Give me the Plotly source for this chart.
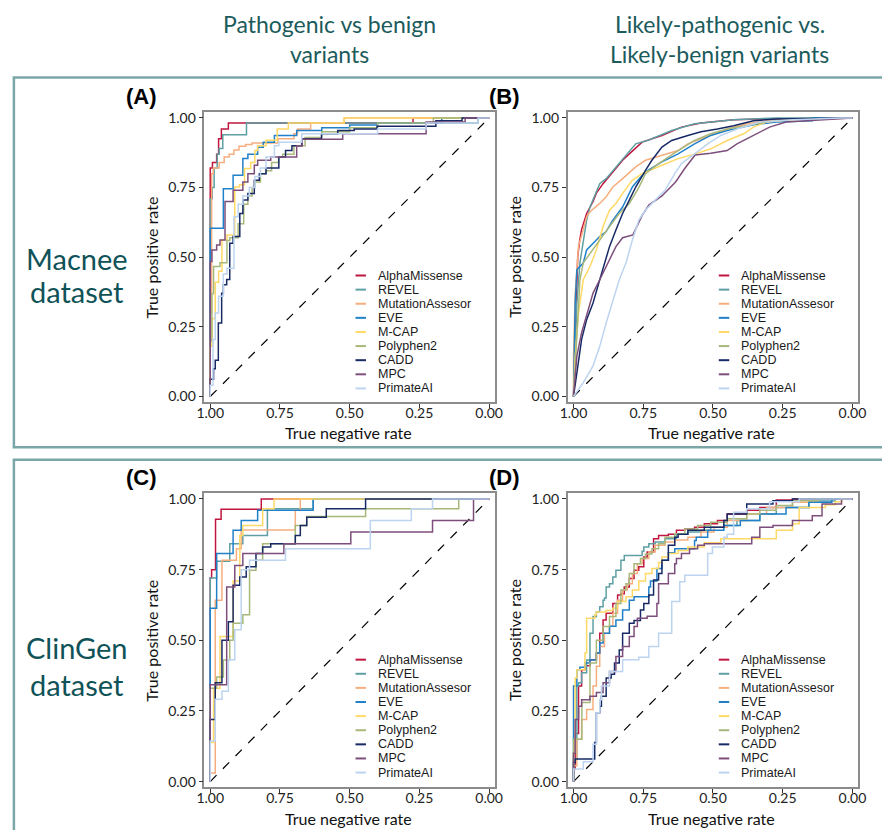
import plotly.graph_objects as go

# ---------------- data ----------------
METHODS = ["AlphaMissense", "REVEL", "MutationAssesor", "EVE", "M-CAP",
           "Polyphen2", "CADD", "MPC", "PrimateAI"]

X_TICK_VALUES = [1.0, 0.75, 0.5, 0.25, 0.0]
X_TICK_LABELS = ["1.00", "0.75", "0.50", "0.25", "0.00"]
Y_TICK_VALUES = [0.0, 0.25, 0.5, 0.75, 1.0]
Y_TICK_LABELS = ["0.00", "0.25", "0.50", "0.75", "1.00"]

# (specificity, sensitivity) vertices of each ROC curve
# Panel A: Macnee, pathogenic vs benign
A_ALPHAMISSENSE = [(1, 0), (0.992, 0.82), (0.977, 0.84), (0.97, 0.87), (0.96, 0.925), (0.935, 0.96), (0.273, 0.982), (0, 1)]
A_REVEL = [(1, 0), (0.993, 0.71), (0.986, 0.75), (0.975, 0.82), (0.968, 0.87), (0.955, 0.89), (0.87, 0.94), (0.04, 0.982), (0, 1)]
A_MUTATIONASSESOR = [(1, 0), (0.995, 0.3), (0.989, 0.8), (0.968, 0.82), (0.95, 0.84), (0.932, 0.86), (0.915, 0.87), (0.897, 0.885), (0.873, 0.898), (0.85, 0.905), (0.757, 0.91), (0.7, 0.925), (0.687, 0.943), (0.64, 0.96), (0.52, 0.982), (0, 1)]
A_EVE = [(1, 0), (0.953, 0.604), (0.918, 0.746), (0.883, 0.794), (0.865, 0.854), (0.83, 0.87), (0.81, 0.895), (0.77, 0.913), (0.69, 0.937), (0.6, 0.955), (0.5, 0.965), (0.4, 0.975), (0.17, 0.982), (0, 1)]
A_MCAP = [(1, 0), (0.994, 0.18), (0.982, 0.28), (0.97, 0.41), (0.958, 0.45), (0.94, 0.562), (0.912, 0.58), (0.895, 0.752), (0.877, 0.76), (0.855, 0.818), (0.84, 0.84), (0.83, 0.883), (0.8, 0.9), (0.76, 0.92), (0.72, 0.96), (0.52, 0.982), (0, 1)]
A_POLYPHEN2 = [(1, 0), (0.994, 0.2), (0.988, 0.37), (0.965, 0.467), (0.94, 0.48), (0.93, 0.56), (0.9, 0.57), (0.88, 0.62), (0.865, 0.69), (0.85, 0.72), (0.84, 0.75), (0.82, 0.77), (0.8, 0.8), (0.78, 0.81), (0.755, 0.84), (0.74, 0.86), (0.7, 0.87), (0.66, 0.9), (0.6, 0.93), (0.5, 0.95), (0.4, 0.965), (0.2, 0.982), (0, 1)]
A_CADD = [(1, 0), (0.988, 0.062), (0.982, 0.1), (0.971, 0.13), (0.959, 0.264), (0.953, 0.371), (0.941, 0.401), (0.93, 0.42), (0.918, 0.55), (0.894, 0.574), (0.883, 0.657), (0.865, 0.705), (0.842, 0.729), (0.824, 0.776), (0.8, 0.8), (0.754, 0.82), (0.73, 0.86), (0.707, 0.883), (0.672, 0.9), (0.601, 0.925), (0.543, 0.943), (0.484, 0.955), (0.402, 0.96), (0.191, 0.97), (0.097, 0.99), (0, 1)]
A_MPC = [(1, 0), (0.994, 0.485), (0.977, 0.526), (0.965, 0.544), (0.947, 0.562), (0.918, 0.7), (0.883, 0.74), (0.865, 0.77), (0.842, 0.8), (0.83, 0.83), (0.783, 0.848), (0.69, 0.86), (0.67, 0.9), (0.525, 0.923), (0.226, 0.943), (0.086, 0.985), (0, 1)]
A_PRIMATEAI = [(1, 0), (0.99, 0.04), (0.982, 0.205), (0.97, 0.3), (0.953, 0.36), (0.94, 0.44), (0.915, 0.46), (0.9, 0.645), (0.883, 0.69), (0.86, 0.72), (0.84, 0.75), (0.82, 0.79), (0.8, 0.82), (0.77, 0.86), (0.754, 0.9), (0.672, 0.913), (0.4, 0.943), (0.226, 0.96), (0.04, 0.982), (0, 1)]

# Panel B: Macnee, likely-pathogenic vs likely-benign
B_ALPHAMISSENSE = [(1, 0), (0.996, 0.15), (0.99, 0.37), (0.985, 0.5), (0.978, 0.56), (0.971, 0.6), (0.953, 0.657), (0.93, 0.7), (0.918, 0.73), (0.894, 0.764), (0.859, 0.806), (0.824, 0.848), (0.8, 0.871), (0.754, 0.913), (0.683, 0.937), (0.613, 0.967), (0.543, 0.982), (0.426, 0.993), (0.332, 0.996), (0, 1)]
B_REVEL = [(1, 0), (0.994, 0.15), (0.988, 0.336), (0.977, 0.48), (0.965, 0.562), (0.953, 0.633), (0.941, 0.68), (0.918, 0.735), (0.906, 0.764), (0.883, 0.782), (0.848, 0.824), (0.812, 0.865), (0.777, 0.907), (0.73, 0.921), (0.648, 0.955), (0.566, 0.979), (0.426, 0.993), (0.273, 1.0), (0, 1)]
B_MUTATIONASSESOR = [(1, 0), (1, 0.145), (0.994, 0.37), (0.982, 0.54), (0.965, 0.6), (0.953, 0.645), (0.941, 0.663), (0.906, 0.693), (0.883, 0.717), (0.859, 0.752), (0.824, 0.782), (0.777, 0.824), (0.742, 0.848), (0.683, 0.865), (0.625, 0.883), (0.59, 0.907), (0.531, 0.93), (0.449, 0.96), (0.379, 0.979), (0.308, 0.99), (0.215, 0.995), (0, 1)]
B_EVE = [(1, 0), (0.996, 0.2), (0.994, 0.336), (0.988, 0.455), (0.965, 0.479), (0.953, 0.526), (0.93, 0.55), (0.906, 0.574), (0.883, 0.592), (0.859, 0.633), (0.824, 0.68), (0.789, 0.752), (0.766, 0.78), (0.742, 0.806), (0.683, 0.842), (0.625, 0.871), (0.566, 0.907), (0.508, 0.937), (0.449, 0.955), (0.355, 0.975), (0.273, 0.985), (0.144, 0.99), (0.144, 1.0), (0, 1)]
B_MCAP = [(1, 0), (0.994, 0.145), (0.982, 0.3), (0.965, 0.419), (0.941, 0.467), (0.918, 0.526), (0.894, 0.61), (0.871, 0.669), (0.848, 0.693), (0.824, 0.729), (0.789, 0.776), (0.754, 0.8), (0.683, 0.83), (0.625, 0.854), (0.566, 0.87), (0.508, 0.889), (0.449, 0.919), (0.39, 0.943), (0.355, 0.967), (0.308, 0.985), (0.215, 0.993), (0.039, 1.0), (0, 1)]
B_POLYPHEN2 = [(1, 0), (0.994, 0.1), (0.988, 0.205), (0.977, 0.419), (0.965, 0.48), (0.941, 0.514), (0.906, 0.562), (0.871, 0.61), (0.836, 0.657), (0.8, 0.693), (0.766, 0.75), (0.742, 0.8), (0.695, 0.836), (0.625, 0.883), (0.566, 0.919), (0.508, 0.943), (0.449, 0.96), (0.379, 0.972), (0.308, 0.985), (0.215, 0.995), (0, 1)]
B_CADD = [(1, 0), (0.988, 0.086), (0.971, 0.205), (0.953, 0.276), (0.93, 0.336), (0.906, 0.419), (0.889, 0.479), (0.871, 0.538), (0.848, 0.598), (0.824, 0.657), (0.8, 0.705), (0.777, 0.752), (0.742, 0.812), (0.719, 0.848), (0.683, 0.895), (0.648, 0.919), (0.59, 0.937), (0.543, 0.95), (0.484, 0.96), (0.426, 0.972), (0.355, 0.99), (0.273, 0.996), (0, 1)]
B_MPC = [(1, 0), (0.988, 0.145), (0.971, 0.229), (0.953, 0.288), (0.93, 0.371), (0.906, 0.419), (0.871, 0.49), (0.848, 0.538), (0.824, 0.57), (0.787, 0.58), (0.754, 0.65), (0.729, 0.688), (0.683, 0.72), (0.634, 0.77), (0.6, 0.82), (0.564, 0.867), (0.508, 0.873), (0.449, 0.883), (0.414, 0.907), (0.379, 0.925), (0.332, 0.949), (0.297, 0.967), (0.238, 0.985), (0.156, 0.99), (0.074, 0.995), (0, 1)]
B_PRIMATEAI = [(1, 0), (0.965, 0.05), (0.93, 0.11), (0.906, 0.18), (0.883, 0.264), (0.859, 0.348), (0.836, 0.419), (0.812, 0.479), (0.789, 0.562), (0.766, 0.633), (0.742, 0.669), (0.707, 0.705), (0.672, 0.74), (0.637, 0.8), (0.613, 0.836), (0.566, 0.871), (0.519, 0.907), (0.472, 0.937), (0.414, 0.96), (0.332, 0.985), (0.215, 0.993), (0.039, 1.0), (0, 1)]

# Panel C: ClinGen, pathogenic vs benign
C_ALPHAMISSENSE = [(1, 0), (0.995, 0.72), (0.981, 0.75), (0.961, 0.928), (0.817, 0.964), (0, 1)]
C_REVEL = [(1, 0), (0.977, 0.72), (0.93, 0.78), (0.883, 0.842), (0.795, 0.871), (0.631, 0.965), (0, 1)]
C_MUTATIONASSESOR = [(1, 0), (0.982, 0.03), (0.958, 0.642), (0.906, 0.783), (0.889, 0.824), (0.695, 0.89), (0.677, 0.96), (0, 1)]
C_EVE = [(1, 0), (0.977, 0.613), (0.918, 0.807), (0.889, 0.889), (0.83, 0.924), (0.631, 0.96), (0, 1)]
C_MCAP = [(1, 0), (0.988, 0.138), (0.965, 0.33), (0.918, 0.513), (0.894, 0.71), (0.883, 0.871), (0.812, 0.906), (0.771, 0.965), (0, 1)]
C_POLYPHEN2 = [(1, 0), (1, 0.26), (0.977, 0.33), (0.953, 0.37), (0.93, 0.43), (0.918, 0.5), (0.883, 0.56), (0.859, 0.59), (0.836, 0.748), (0.812, 0.783), (0.695, 0.842), (0.654, 0.906), (0.443, 0.938), (0.109, 0.965), (0, 1)]
C_CADD = [(1, 0), (0.982, 0.22), (0.958, 0.35), (0.935, 0.5), (0.918, 0.566), (0.894, 0.695), (0.871, 0.724), (0.836, 0.76), (0.812, 0.807), (0.783, 0.83), (0.695, 0.842), (0.677, 0.871), (0.654, 0.906), (0.584, 0.935), (0.443, 0.965), (0, 1)]
C_MPC = [(1, 0), (0.941, 0.343), (0.912, 0.689), (0.883, 0.765), (0.736, 0.807), (0.496, 0.842), (0.203, 0.883), (0.056, 0.924), (0, 1)]
C_PRIMATEAI = [(1, 0), (0.982, 0.144), (0.958, 0.291), (0.935, 0.32), (0.912, 0.431), (0.889, 0.537), (0.859, 0.75), (0.73, 0.783), (0.426, 0.824), (0.279, 0.924), (0.203, 0.965), (0, 1)]

# Panel D: ClinGen, likely-pathogenic vs likely-benign
D_ALPHAMISSENSE = [(1, 0), (0.994, 0.045), (0.982, 0.17), (0.971, 0.338), (0.959, 0.396), (0.941, 0.41), (0.918, 0.431), (0.906, 0.455), (0.894, 0.525), (0.883, 0.572), (0.859, 0.596), (0.842, 0.63), (0.83, 0.66), (0.818, 0.665), (0.8, 0.689), (0.783, 0.719), (0.766, 0.748), (0.748, 0.76), (0.736, 0.795), (0.713, 0.812), (0.695, 0.859), (0.66, 0.871), (0.631, 0.875), (0.601, 0.889), (0.566, 0.894), (0.531, 0.9), (0.484, 0.912), (0.449, 0.924), (0.379, 0.947), (0.332, 0.96), (0.273, 0.97), (0.215, 0.996), (0.074, 1.0), (0, 1)]
D_REVEL = [(1, 0), (0.988, 0.08), (0.982, 0.338), (0.971, 0.35), (0.953, 0.385), (0.941, 0.43), (0.93, 0.525), (0.918, 0.584), (0.906, 0.6), (0.894, 0.619), (0.889, 0.642), (0.883, 0.65), (0.871, 0.689), (0.859, 0.7), (0.848, 0.724), (0.83, 0.748), (0.818, 0.783), (0.754, 0.8), (0.748, 0.815), (0.73, 0.83), (0.707, 0.842), (0.672, 0.848), (0.631, 0.859), (0.59, 0.875), (0.543, 0.883), (0.508, 0.889), (0.461, 0.9), (0.414, 0.906), (0.332, 0.924), (0.273, 0.947), (0.156, 0.97), (0.062, 0.993), (0, 1)]
D_MUTATIONASSESOR = [(1, 0), (0.988, 0.056), (0.971, 0.15), (0.953, 0.22), (0.93, 0.255), (0.918, 0.338), (0.906, 0.408), (0.889, 0.478), (0.871, 0.525), (0.859, 0.55), (0.842, 0.596), (0.824, 0.642), (0.807, 0.678), (0.789, 0.7), (0.771, 0.736), (0.754, 0.771), (0.73, 0.789), (0.707, 0.812), (0.672, 0.836), (0.637, 0.848), (0.59, 0.855), (0.543, 0.865), (0.496, 0.883), (0.449, 0.9), (0.379, 0.924), (0.308, 0.947), (0.215, 0.97), (0.132, 0.988), (0.039, 1.0), (0, 1)]
D_EVE = [(1, 0), (1, 0.215), (0.988, 0.338), (0.977, 0.396), (0.959, 0.405), (0.941, 0.42), (0.918, 0.43), (0.906, 0.455), (0.894, 0.49), (0.871, 0.525), (0.848, 0.55), (0.824, 0.572), (0.8, 0.607), (0.783, 0.642), (0.76, 0.654), (0.73, 0.654), (0.724, 0.689), (0.701, 0.71), (0.683, 0.754), (0.66, 0.783), (0.637, 0.81), (0.566, 0.824), (0.56, 0.853), (0.519, 0.865), (0.461, 0.889), (0.402, 0.906), (0.332, 0.924), (0.238, 0.947), (0.156, 0.97), (0.074, 0.988), (0.062, 1.0), (0, 1)]
D_MCAP = [(1, 0), (0.994, 0.103), (0.988, 0.367), (0.982, 0.396), (0.959, 0.396), (0.953, 0.455), (0.924, 0.578), (0.918, 0.59), (0.883, 0.6), (0.859, 0.605), (0.842, 0.613), (0.812, 0.637), (0.789, 0.654), (0.766, 0.678), (0.742, 0.71), (0.719, 0.736), (0.695, 0.754), (0.683, 0.775), (0.66, 0.795), (0.625, 0.807), (0.59, 0.818), (0.531, 0.83), (0.472, 0.845), (0.273, 0.859), (0.215, 0.889), (0.191, 0.912), (0.097, 0.97), (0.062, 0.98), (0.039, 0.99), (0, 1)]
D_POLYPHEN2 = [(1, 0), (0.97, 0.15), (0.941, 0.28), (0.918, 0.42), (0.894, 0.5), (0.871, 0.549), (0.848, 0.584), (0.83, 0.63), (0.812, 0.678), (0.8, 0.7), (0.783, 0.736), (0.76, 0.771), (0.742, 0.789), (0.719, 0.805), (0.695, 0.824), (0.672, 0.842), (0.637, 0.865), (0.601, 0.877), (0.555, 0.894), (0.508, 0.906), (0.449, 0.918), (0.379, 0.93), (0.332, 0.947), (0.273, 0.96), (0.215, 0.977), (0.121, 0.994), (0.039, 1.0), (0, 1)]
D_CADD = [(1, 0), (0.994, 0.068), (0.924, 0.08), (0.918, 0.138), (0.906, 0.244), (0.9, 0.267), (0.883, 0.302), (0.865, 0.367), (0.853, 0.38), (0.836, 0.42), (0.824, 0.466), (0.8, 0.525), (0.783, 0.56), (0.76, 0.57), (0.748, 0.607), (0.73, 0.63), (0.713, 0.66), (0.695, 0.713), (0.683, 0.736), (0.66, 0.783), (0.637, 0.836), (0.625, 0.865), (0.59, 0.875), (0.531, 0.889), (0.461, 0.9), (0.449, 0.924), (0.379, 0.947), (0.285, 0.982), (0.215, 0.994), (0.179, 1.0), (0, 1)]
D_MPC = [(1, 0), (0.994, 0.1), (0.982, 0.22), (0.971, 0.267), (0.941, 0.29), (0.918, 0.302), (0.894, 0.315), (0.871, 0.35), (0.848, 0.39), (0.824, 0.443), (0.8, 0.478), (0.783, 0.513), (0.771, 0.549), (0.736, 0.578), (0.701, 0.585), (0.695, 0.63), (0.66, 0.7), (0.637, 0.736), (0.631, 0.771), (0.613, 0.789), (0.584, 0.807), (0.555, 0.824), (0.531, 0.836), (0.361, 0.842), (0.332, 0.865), (0.285, 0.9), (0.215, 0.906), (0.144, 0.924), (0.109, 0.941), (0.039, 0.982), (0, 1)]
D_PRIMATEAI = [(1, 0), (0.965, 0.045), (0.93, 0.07), (0.918, 0.132), (0.906, 0.244), (0.9, 0.29), (0.871, 0.338), (0.824, 0.39), (0.766, 0.431), (0.73, 0.44), (0.695, 0.478), (0.648, 0.525), (0.619, 0.637), (0.601, 0.707), (0.519, 0.73), (0.502, 0.807), (0.461, 0.83), (0.449, 0.865), (0.426, 0.875), (0.379, 0.953), (0.297, 0.965), (0.191, 0.99), (0.062, 1.0), (0, 1)]

A_CURVES = [A_ALPHAMISSENSE, A_REVEL, A_MUTATIONASSESOR, A_EVE, A_MCAP, A_POLYPHEN2, A_CADD, A_MPC, A_PRIMATEAI]
B_CURVES = [B_ALPHAMISSENSE, B_REVEL, B_MUTATIONASSESOR, B_EVE, B_MCAP, B_POLYPHEN2, B_CADD, B_MPC, B_PRIMATEAI]
C_CURVES = [C_ALPHAMISSENSE, C_REVEL, C_MUTATIONASSESOR, C_EVE, C_MCAP, C_POLYPHEN2, C_CADD, C_MPC, C_PRIMATEAI]
D_CURVES = [D_ALPHAMISSENSE, D_REVEL, D_MUTATIONASSESOR, D_EVE, D_MCAP, D_POLYPHEN2, D_CADD, D_MPC, D_PRIMATEAI]

COL_HEADERS = [["Pathogenic vs benign", "variants"], ["Likely-pathogenic vs.", "Likely-benign variants"]]
ROW_HEADERS = [["Macnee", "dataset"], ["ClinGen", "dataset"]]
PANEL_LABELS = ["(A)", "(B)", "(C)", "(D)"]
X_TITLE = "True negative rate"
Y_TITLE = "True positive rate"

# ---------------- style ----------------
COLORS = ["#C0163F", "#5E9FA3", "#F6AE7F", "#2081C9", "#FFD966",
          "#A8B87A", "#172A66", "#7D4E7B", "#BDD4F0"]
W, H = 882, 830
TEAL_TEXT = "#1B5B5C"
FONT = "Lato"
LEGEND_ROW_PX = 14.2


def fx(p):
    return p / W


def fy(p):
    return 1 - p / H


# pixel boxes of the four plotting areas (left, right, top, bottom)
PANELS = [
    dict(curves=A_CURVES, box=(200, 496, 110, 401.5), shape="vh"),
    dict(curves=B_CURVES, box=(570, 866, 110, 401.5), shape="linear"),
    dict(curves=C_CURVES, box=(200, 496, 493.3, 789), shape="vh"),
    dict(curves=D_CURVES, box=(570, 866, 493.3, 789), shape="vh"),
]

fig = go.Figure()
layout = dict(width=W, height=H, margin=dict(l=0, r=0, t=0, b=0),
              paper_bgcolor="white", plot_bgcolor="white", showlegend=False)
annotations = []
shapes = []

for i, p in enumerate(PANELS):
    n = "" if i == 0 else str(i + 1)
    xa, ya = "x" + n, "y" + n
    l, r, t, b = p["box"]
    axis_common = dict(ticks="outside", ticklen=4, tickwidth=1.1, tickcolor="#333333",
                       showline=True, linecolor="#8c8c8c", linewidth=1.5, mirror=True,
                       showgrid=False, zeroline=False,
                       tickfont=dict(family=FONT, size=14, color="#222222"))
    layout["xaxis" + n] = dict(domain=[fx(l), fx(r)], range=[1.021, -0.021],
                               tickmode="array", tickvals=X_TICK_VALUES, ticktext=X_TICK_LABELS,
                               ticklabelstandoff=-7, anchor=ya, **axis_common)
    layout["yaxis" + n] = dict(domain=[fy(b), fy(t)], range=[-0.02, 1.02],
                               tickmode="array", tickvals=Y_TICK_VALUES, ticktext=Y_TICK_LABELS,
                               anchor=xa, **axis_common)

    # chance diagonal
    fig.add_trace(go.Scatter(x=[1, 0], y=[0, 1], mode="lines", xaxis=xa, yaxis=ya,
                             line=dict(color="black", width=1.2, dash="dash"),
                             hoverinfo="skip"))
    for name, curve, color in zip(METHODS, p["curves"], COLORS):
        fig.add_trace(go.Scatter(x=[c[0] for c in curve], y=[c[1] for c in curve],
                                 mode="lines", name=name, xaxis=xa, yaxis=ya,
                                 line=dict(color=color, width=1.5, shape=p["shape"])))

    # in-panel legend
    step = LEGEND_ROW_PX / (b - t)
    for k, (name, color) in enumerate(zip(METHODS, COLORS)):
        yy = 0.242 + (4 - k) * step
        shapes.append(dict(type="line", xref=xa + " domain", yref=ya + " domain",
                           x0=0.52, x1=0.556, y0=yy, y1=yy,
                           line=dict(color=color, width=2)))
        annotations.append(dict(text=name, xref=xa + " domain", yref=ya + " domain",
                                x=0.59, y=yy, xanchor="left", yanchor="middle",
                                showarrow=False,
                                font=dict(family="Liberation Sans", size=12.5, color="#1a1a1a")))

    # axis titles
    annotations.append(dict(text=X_TITLE, xref="paper", yref="paper",
                            x=fx((l + r) / 2 - 1), y=fy(b + 31), xanchor="center", yanchor="middle",
                            showarrow=False, font=dict(family=FONT, size=16, color="#111111")))
    annotations.append(dict(text=Y_TITLE, xref="paper", yref="paper", textangle=-90,
                            x=fx(l - 54), y=fy((t + b) / 2), xanchor="center", yanchor="middle",
                            showarrow=False, font=dict(family=FONT, size=16, color="#111111")))
    # panel label
    annotations.append(dict(text="<b>" + PANEL_LABELS[i] + "</b>", xref="paper", yref="paper",
                            x=fx(l - 64), y=fy(t - 16), xanchor="center", yanchor="middle",
                            showarrow=False, font=dict(family="Liberation Sans", size=22, color="black")))

# column headers
for j, lines in enumerate(COL_HEADERS):
    cx = [327, 725][j]
    for k, line in enumerate(lines):
        annotations.append(dict(text=line, xref="paper", yref="paper",
                                x=fx(cx), y=fy(21 + 30 * k), xanchor="center", yanchor="middle",
                                showarrow=False, font=dict(family=FONT, size=23, color=TEAL_TEXT)))

# row headers
ROW_LINE_Y = [[257, 290], [648, 686]]
for j, lines in enumerate(ROW_HEADERS):
    for k, line in enumerate(lines):
        annotations.append(dict(text=line, xref="paper", yref="paper",
                                x=fx(70), y=fy(ROW_LINE_Y[j][k]), xanchor="center", yanchor="middle",
                                showarrow=False, font=dict(family=FONT, size=29, color="#0F5257")))

# framing boxes
for y0, y1 in [(75, 447), (459.5, 845)]:
    shapes.append(dict(type="rect", xref="paper", yref="paper",
                       x0=fx(6), x1=fx(900), y0=fy(y1), y1=fy(y0),
                       line=dict(color="#7BA6A7", width=2.5), fillcolor="rgba(0,0,0,0)",
                       layer="below"))

layout["annotations"] = annotations
layout["shapes"] = shapes
fig.update_layout(**layout)
fig.write_html("out.html", config={"displayModeBar": False},
               post_script="document.body.style.margin='0';document.body.style.overflow='hidden';")
